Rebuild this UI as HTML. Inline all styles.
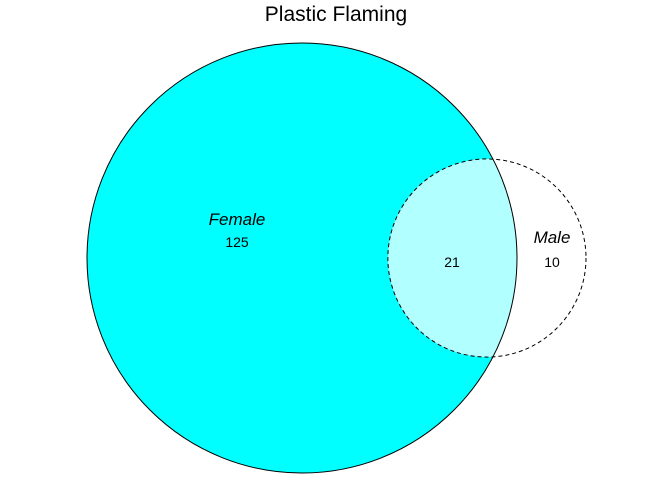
<!DOCTYPE html>
<html><head><meta charset="utf-8"><style>
html,body{margin:0;padding:0;background:#fff;}
svg{display:block;font-family:"Liberation Sans",Arial,sans-serif;}
</style></head><body>
<svg id="chart" width="672" height="480" viewBox="0 0 672 480">
<text x="336" y="21" text-anchor="middle" font-size="21">Plastic Flaming</text>
<g id="plot"></g>
</svg>
<script>
const setNames = ["Female", "Male"];
const onlyCounts = [125, 10];
const overlapCount = [21];

const NS = "http://www.w3.org/2000/svg";
const plot = document.getElementById("plot");
function mk(tag, attrs, parent) {
  const e = document.createElementNS(NS, tag);
  for (const k in attrs) e.setAttribute(k, attrs[k]);
  (parent || plot).appendChild(e);
  return e;
}
const totals = [onlyCounts[0] + overlapCount[0], onlyCounts[1] + overlapCount[0]];
const k = 215 / Math.sqrt(146);
const r = totals.map(t => k * Math.sqrt(t));
const cy = 258;
const cx0 = 87 + r[0];
const cx1 = 586 - r[1];

const defs = mk("defs", {});
const cp = mk("clipPath", {id: "clipBig"}, defs);
mk("circle", {cx: cx0, cy: cy, r: r[0]}, cp);

const big = mk("circle", {cx: cx0, cy: cy, r: r[0], fill: "#00ffff", stroke: "none"});


const inter = mk("circle", {cx: cx1, cy: cy, r: r[1], fill: "#b2ffff", stroke: "none", "clip-path": "url(#clipBig)"});


const bigStroke = mk("circle", {cx: cx0, cy: cy, r: r[0], fill: "none", stroke: "#000", "stroke-width": 1});


const small = mk("circle", {cx: cx1, cy: cy, r: r[1], fill: "none", stroke: "#000", "stroke-width": 1, "stroke-dasharray": "4,3"});



function txt(x, y, s, italic, name) {
  const t = mk("text", {x: x, y: y, "text-anchor": "middle", "font-size": italic ? 17 : 14});
  if (italic) t.setAttribute("font-style", "italic");
  t.textContent = s;
  
  
}
txt(237, 225, setNames[0], true, 'female-label');
txt(237, 247, String(onlyCounts[0]), false, 'female-count');
txt(552, 243, setNames[1], true, 'male-label');
txt(552, 267, String(onlyCounts[1]), false, 'male-count');
txt(452, 267, String(overlapCount[0]), false, 'overlap-count');
</script>
</body></html>
